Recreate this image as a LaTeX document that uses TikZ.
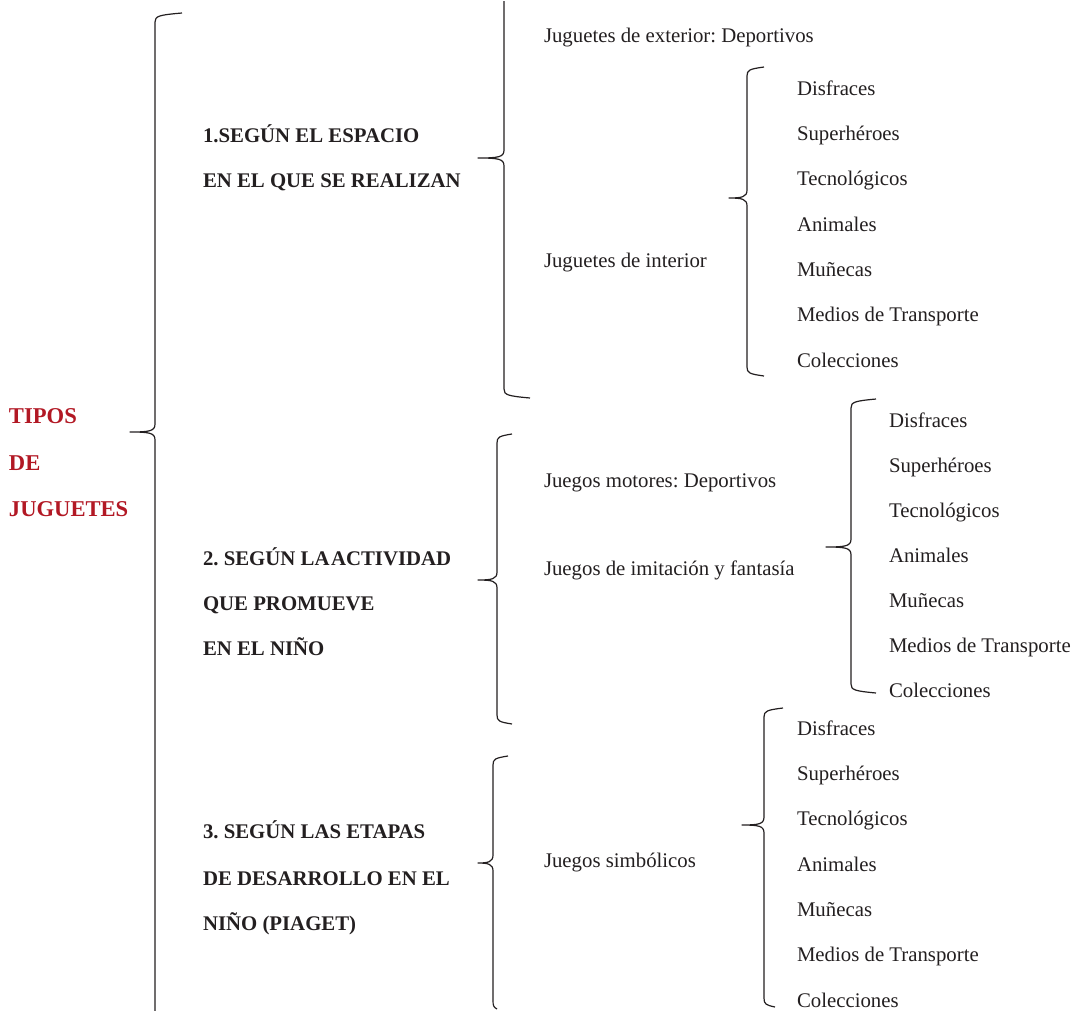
\documentclass[tikz,border=0pt]{standalone}
\usepackage{fontspec}
\setmainfont{Liberation Serif}
\frenchspacing
\definecolor{ink}{RGB}{35,31,32}
\definecolor{redtitle}{RGB}{178,24,36}
\tikzset{
  txt/.style={anchor=base west, inner sep=0pt, outer sep=0pt, text=ink, font=\fontsize{20.8}{25}\selectfont},
  boldtxt/.style={txt, font=\fontsize{20.8}{25}\selectfont\bfseries},
  titletxt/.style={txt, text=redtitle, font=\fontsize{22.6}{27}\selectfont\bfseries},
  bracepath/.style={draw=ink, line width=1.2pt, line join=round}
}
% #1 name, #2 X of vertical, #3 top y, #4 top hook end x, #5 tip x, #6 tip y, #7 bottom y, #8 bottom hook end x
\newcommand{\mybrace}[8]{%
  \coordinate (#1-top) at (#4,{#3-2});
  \coordinate (#1-tip) at (#5,#6);
  \coordinate (#1-bot) at (#8,{#7+2});
  \draw[bracepath] (#1-top) .. controls ({#2+0.15*(#4-#2)},#3) and (#2,{#3+1}) .. (#2,{#3+7})
    -- (#2,{#6-8}) .. controls (#2,{#6-1}) and ({#2-5},#6) .. (#1-tip)
    .. controls ({#2-5},#6) and (#2,{#6+1}) .. (#2,{#6+8})
    -- (#2,{#7-7}) .. controls (#2,{#7-1}) and ({#2+0.15*(#8-#2)},#7) .. (#1-bot);
}
\begin{document}
\begin{tikzpicture}[x=1pt,y=-1pt]
\useasboundingbox (0,0) rectangle (1085,1010);

% braces
\mybrace{b0}{155}{15}{182}{130}{432}{1016}{155}
\mybrace{b1}{504}{3}{504}{478}{158}{396}{530}
\mybrace{bint}{747}{69}{764}{729}{198}{374}{764}
\mybrace{b2}{497}{436}{512}{478}{580}{722}{512}
\mybrace{bimi}{851}{401}{876}{826}{547}{691}{876}
\mybrace{b3}{493}{758}{508}{478}{863}{1007}{497}
\mybrace{bsim}{764}{710}{783}{742}{825}{1005}{775}

% title
\node[titletxt] (t1) at (9,423) {TIPOS};
\node[titletxt] (t2) at (9,470) {DE};
\node[titletxt] (t3) at (9,516) {JUGUETES};

% section 1
\node[boldtxt] (s1a) at (203,142) {1.SEGÚN EL ESPACIO};
\node[boldtxt] (s1b) at (203,187) {EN EL QUE SE REALIZAN};
\node[txt] (ext) at (544,42) {Juguetes de exterior: Deportivos};
\node[txt] (int) at (544,267) {Juguetes de interior};
\foreach \lab/\yy [count=\i] in {Disfraces/95, Superhéroes/140.3, Tecnológicos/185.7, Animales/231, Muñecas/276.3, Medios de Transporte/321.7, Colecciones/367}
  \node[txt] (la\i) at (797,\yy) {\lab};

% section 2
\node[boldtxt] (s2a) at (203,565) {2. SEGÚN LA\hspace{1.5pt}ACTIVIDAD};
\node[boldtxt] (s2b) at (203,610) {QUE PROMUEVE};
\node[boldtxt] (s2c) at (203,655) {EN EL NIÑO};
\node[txt] (mot) at (544,487) {Juegos motores: Deportivos};
\node[txt] (imi) at (544,575) {Juegos de imitación y fantasía};
\foreach \lab/\yy [count=\i] in {Disfraces/427, Superhéroes/472, Tecnológicos/517, Animales/562, Muñecas/607, Medios de Transporte/652, Colecciones/697}
  \node[txt] (lb\i) at (889,\yy) {\lab};

% section 3
\node[boldtxt] (s3a) at (203,838) {3. SEGÚN LAS ETAPAS};
\node[boldtxt] (s3b) at (203,885) {DE DESARROLLO EN EL};
\node[boldtxt] (s3c) at (203,930) {NIÑO (PIAGET)};
\node[txt] (sim) at (544,867) {Juegos simbólicos};
\foreach \lab/\yy [count=\i] in {Disfraces/735, Superhéroes/780.3, Tecnológicos/825.7, Animales/871, Muñecas/916.3, Medios de Transporte/961.7, Colecciones/1007}
  \node[txt] (lc\i) at (797,\yy) {\lab};
\end{tikzpicture}
\end{document}
